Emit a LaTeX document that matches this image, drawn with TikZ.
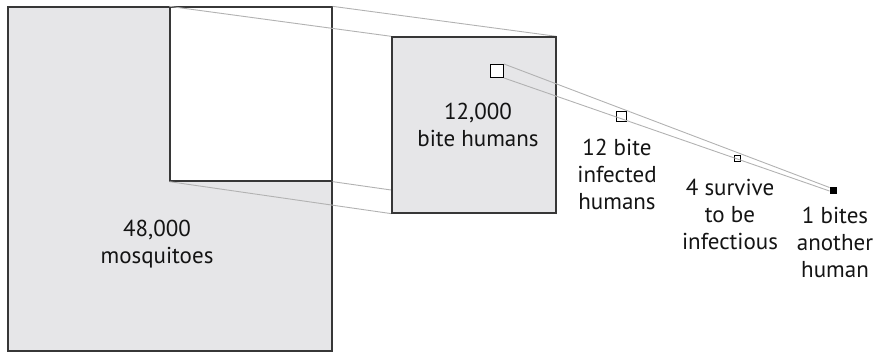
\documentclass[tikz,border=0pt]{standalone}
\usepackage{fontspec}
\setmainfont{PT Sans}
\definecolor{boxgray}{RGB}{230,230,232}
\definecolor{edgegray}{RGB}{55,55,55}
\definecolor{linegray}{RGB}{178,178,178}
\definecolor{textgray}{RGB}{20,20,20}
\usetikzlibrary{positioning}
\pgfdeclarelayer{back}
\pgfdeclarelayer{beams}
\pgfsetlayers{back,beams,main}

\begin{document}
\begin{tikzpicture}[x=1pt, y=-1pt,
  stage/.style={draw=edgegray, line width=1.3pt, fill=boxgray, inner sep=0pt},
  dot/.style={draw=black, line width=1pt, fill=white, inner sep=0pt},
  beam/.style={linegray, line width=0.9pt},
  lbl/.style={font=\fontsize{23}{27}\selectfont, text=textgray, align=center, inner sep=0pt}]
  \useasboundingbox (0,0) rectangle (882,355);
  % All mosquitoes and the part that bites
  \begin{pgfonlayer}{back}
    \node[stage, minimum width=324pt, minimum height=344pt] (all) at (170,179) {};
    \node[stage, fill=white, minimum width=162pt, minimum height=174pt] (part) at (251,94) {};
  \end{pgfonlayer}
  \node[lbl] (alllabel) at (157,244) {48,000\\mosquitoes};
  \node[stage, lbl, minimum width=164pt, minimum height=176pt] (bite) at (474,125) {\kern8pt12,000\\\kern8pt bite humans};
  % Zoom lines
  \begin{pgfonlayer}{beams}
    \foreach \corner in {north west, north east, south west, south east}
      \draw[beam] (part.\corner) -- (bite.\corner);
  \end{pgfonlayer}
  % Shrinking squares
  \node[dot, minimum size=13pt] (sqa) at (497,71) {};
  \node[dot, minimum size=10pt] (sqb) at (621,117) {};
  \node[dot, minimum size=6pt, line width=0.8pt] (sqc) at (737,158) {};
  \node[dot, minimum size=6pt, fill=black] (sqd) at (833,191) {};
  \draw[beam] (sqa.north east) -- (sqd.north west);
  \draw[beam] (sqa.south east) -- (sqd.west);
  % Labels
  \node[lbl] (infected) at (617,174) {12 bite\\infected\\humans};
  \node[lbl] (survive) at (730,214) {4 survive\\to be\\infectious};
  \node[lbl] (another) at (835,242) {1 bites\\another\\human};
\end{tikzpicture}
\end{document}
